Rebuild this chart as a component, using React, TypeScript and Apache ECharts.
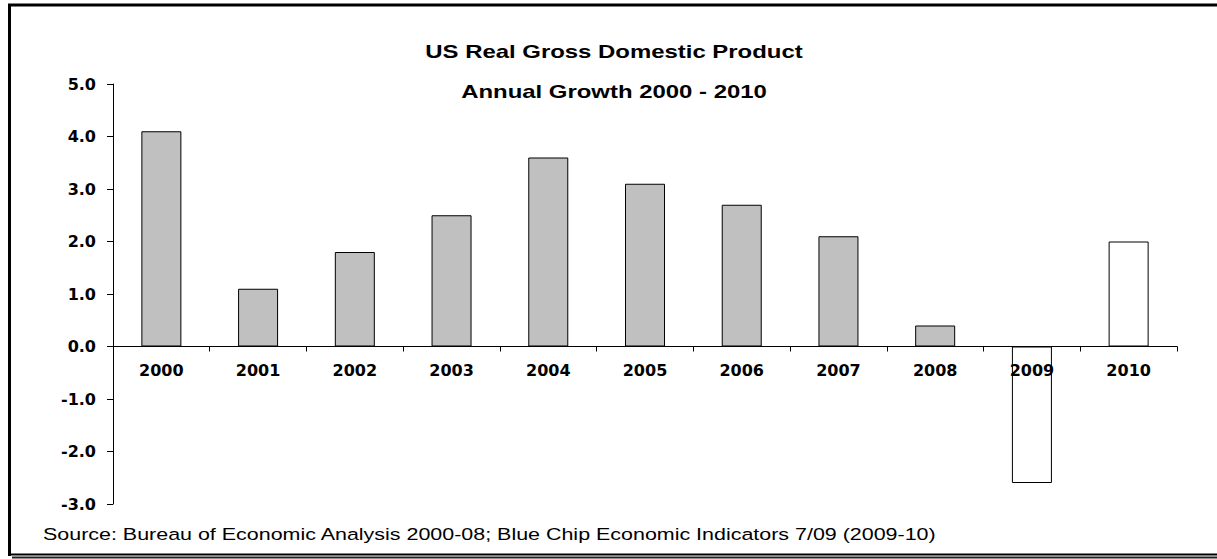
import React, { useEffect, useRef } from "react";
import * as echarts from "echarts";

const years = ["2000", "2001", "2002", "2003", "2004", "2005", "2006", "2007", "2008", "2009", "2010"];
const growth = [4.1, 1.1, 1.8, 2.5, 3.6, 3.1, 2.7, 2.1, 0.4, -2.6, 2.0];
const forecastYears = ["2009", "2010"];
const titleLines = ["US Real Gross Domestic Product", "Annual Growth 2000 - 2010"];
const sourceNote = "Source: Bureau of Economic Analysis 2000-08; Blue Chip Economic Indicators 7/09 (2009-10)";

export default function App() {
  const ref = useRef<HTMLDivElement>(null);
  useEffect(() => {
    document.documentElement.style.overflow = "hidden";
    document.body.style.margin = "0";
    document.body.style.overflow = "hidden";
    if (!ref.current) return;
    const chart = echarts.init(ref.current, undefined, { renderer: "svg" });
    const data = years.map((y, i) => ({
      value: growth[i],
      itemStyle: {
        color: forecastYears.includes(y) ? "#ffffff" : "#c0c0c0",
        borderColor: "#000000",
        borderWidth: 1,
      },
    }));
    chart.setOption({
      animation: false,
      backgroundColor: "#ffffff",
      grid: { left: 113, top: 84, right: 40, bottom: 55, containLabel: false },
      xAxis: {
        type: "category",
        data: years,
        boundaryGap: true,
        axisLine: { onZero: true, lineStyle: { color: "#000", width: 1 } },
        axisTick: { show: true, alignWithLabel: false, length: 5, lineStyle: { color: "#000" } },
        axisLabel: {
          margin: -142,
          color: "#000",
          fontFamily: "DejaVu Sans",
          fontWeight: "bold",
          fontSize: 16,
          interval: 0,
        },
        splitLine: { show: false },
        z: 10,
      },
      yAxis: {
        type: "value",
        min: -3,
        max: 5,
        interval: 1,
        axisLine: { show: true, onZero: false, lineStyle: { color: "#000", width: 1 } },
        axisTick: { show: true, length: 6, lineStyle: { color: "#000" } },
        axisLabel: {
          margin: 17,
          color: "#000",
          fontFamily: "DejaVu Sans",
          fontWeight: "bold",
          fontSize: 16,
          formatter: (v: number) => v.toFixed(1),
        },
        splitLine: { show: false },
      },
      graphic: [
        {
          type: "line",
          shape: { x1: 8, y1: 5, x2: 1217, y2: 5 },
          style: { stroke: "#000", lineWidth: 3 },
          silent: true,
        },
        {
          type: "line",
          shape: { x1: 9.5, y1: 4, x2: 9.5, y2: 556 },
          style: { stroke: "#000", lineWidth: 3 },
          silent: true,
        },
        {
          type: "line",
          shape: { x1: 8, y1: 554.5, x2: 1217, y2: 554.5 },
          style: { stroke: "#000", lineWidth: 2 },
          silent: true,
        },
        {
          type: "line",
          shape: { x1: 12, y1: 557.5, x2: 1217, y2: 557.5 },
          style: { stroke: "#222", lineWidth: 2 },
          silent: true,
        },
        {
          type: "text",
          x: 614,
          y: 52,
          scaleX: 1.33,
          style: {
            text: titleLines[0],
            x: 0,
            y: 0,
            textAlign: "center",
            textVerticalAlign: "middle",
            fontFamily: "Liberation Sans",
            fontWeight: "bold",
            fontSize: 18,
            fill: "#000",
          },
        },
        {
          type: "text",
          x: 614,
          y: 92,
          scaleX: 1.33,
          style: {
            text: titleLines[1],
            x: 0,
            y: 0,
            textAlign: "center",
            textVerticalAlign: "middle",
            fontFamily: "Liberation Sans",
            fontWeight: "bold",
            fontSize: 18,
            fill: "#000",
          },
        },
        {
          type: "text",
          x: 43,
          y: 534,
          scaleX: 1.262,
          style: {
            text: sourceNote,
            x: 0,
            y: 0,
            textAlign: "left",
            textVerticalAlign: "middle",
            fontFamily: "Liberation Sans",
            fontSize: 17,
            fill: "#000",
          },
        },
      ],
      series: [
        {
          type: "bar",
          data,
          barWidth: 40,
        },
      ],
    });
    return () => chart.dispose();
  }, []);
  return (
    <div style={{ position: "absolute", left: 0, top: 0, width: 1217, height: 559, overflow: "hidden" }}>
      <div ref={ref} style={{ width: 1217, height: 559 }} />
    </div>
  );
}
